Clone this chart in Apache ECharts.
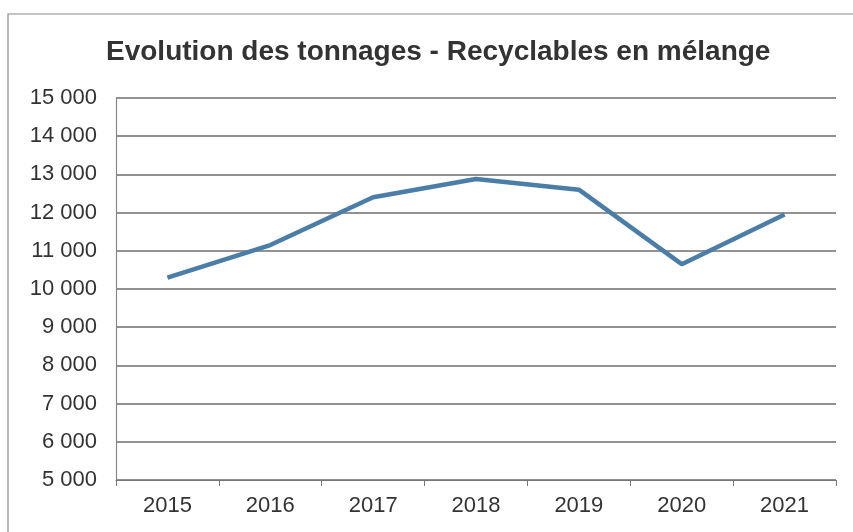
<!DOCTYPE html>
<html><head><meta charset="utf-8">
<script src="https://cdn.jsdelivr.net/npm/echarts@6/dist/echarts.min.js"></script>
<style>html,body{margin:0;padding:0;background:#fff}#c{width:853px;height:532px}</style>
</head><body><div id="c"></div>
<script>
const title = 'Evolution des tonnages - Recyclables en mélange';
const years = ['2015','2016','2017','2018','2019','2020','2021'];
const tonnages = [10300, 11150, 12400, 12880, 12600, 10650, 11950];
const yMin = 5000, yMax = 15000, yStep = 1000;

const chart = echarts.init(document.getElementById('c'), null, {renderer:'canvas'});
chart.setOption({
  backgroundColor:'#fff',
  animation:false,
  graphic:[{type:'rect',shape:{x:8,y:14,width:860,height:540},style:{fill:'none',stroke:'#8a8a8a',lineWidth:1.2},z:-1}],
  title:{text:title,left:106,top:38,padding:0,textStyle:{fontFamily:'Liberation Sans, Arial, sans-serif',fontSize:28,fontWeight:'bold',color:'#333'}},
  grid:{left:116,right:17,top:98,bottom:52},
  xAxis:{type:'category',data:years,boundaryGap:true,
    axisLine:{lineStyle:{color:'#777',width:1.2}},
    axisTick:{show:true,length:6,lineStyle:{color:'#777'}},
    axisLabel:{fontFamily:'Liberation Sans, Arial, sans-serif',fontSize:22,color:'#333',margin:15}},
  yAxis:{type:'value',min:yMin,max:yMax,interval:yStep,
    axisLine:{show:true,lineStyle:{color:'#888',width:1.2}},
    axisTick:{show:false},
    splitLine:{lineStyle:{color:'#6e6e6e',width:1.5}},
    axisLabel:{fontFamily:'Liberation Sans, Arial, sans-serif',fontSize:22,color:'#333',margin:19,
      formatter:v=>String(v).replace(/\B(?=(\d{3})+(?!\d))/g,' ')}},
  series:[{type:'line',data:tonnages,symbol:'none',lineStyle:{color:'#4a7ea8',width:4.5},itemStyle:{color:'#4a7ea8'}}]
});
</script></body></html>
